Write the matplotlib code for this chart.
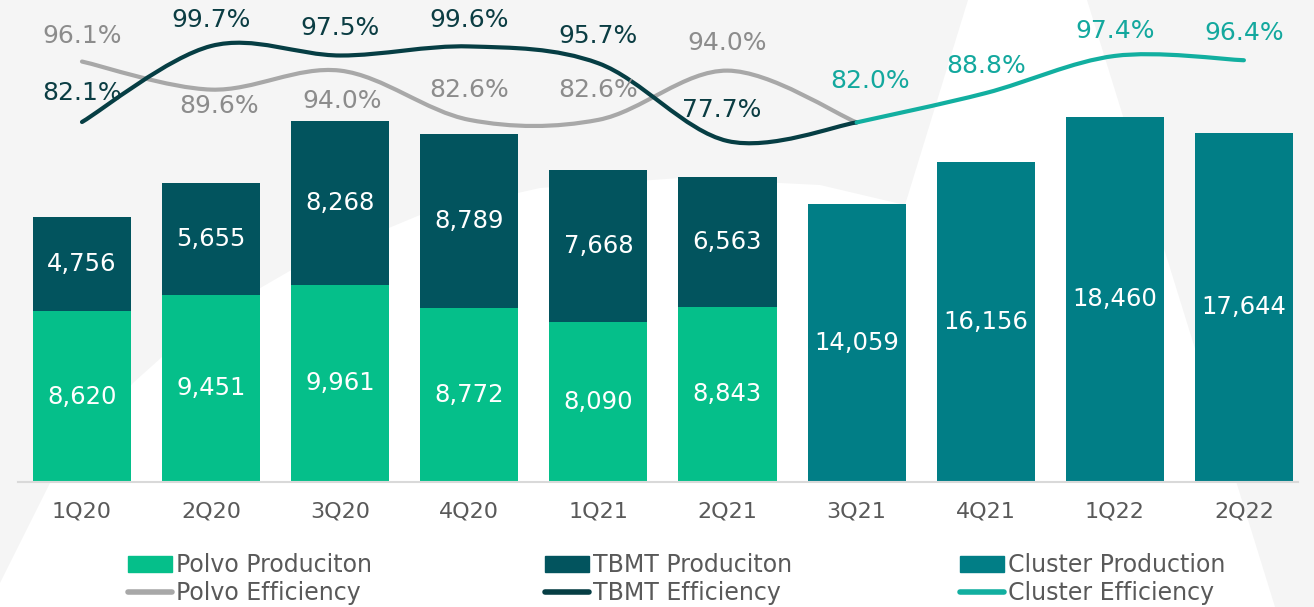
import matplotlib
matplotlib.use('Agg')
import matplotlib.pyplot as plt
import numpy as np
from matplotlib.path import Path
from matplotlib.patches import PathPatch, Patch, Polygon
from matplotlib.lines import Line2D

plt.rcParams['font.family'] = ['DejaVu Sans']

# data
quarters = ['1Q20', '2Q20', '3Q20', '4Q20', '1Q21', '2Q21', '3Q21', '4Q21', '1Q22', '2Q22']
polvo_prod = [8620, 9451, 9961, 8772, 8090, 8843]
tbmt_prod = [4756, 5655, 8268, 8789, 7668, 6563]
cluster_prod = [14059, 16156, 18460, 17644]
polvo_eff = [96.1, 89.6, 94.0, 82.6, 82.6, 94.0, 82.0]
tbmt_eff = [82.1, 99.7, 97.5, 99.6, 95.7, 77.7, 82.0]
cluster_eff = [82.0, 88.8, 97.4, 96.4]

c_polvo = '#05BF8A'
c_tbmt = '#02545E'
c_cluster = '#017E86'
c_polvo_line = '#A8A8A8'
c_tbmt_line = '#063E44'
c_cluster_line = '#12AFA0'

W, H = 1314, 607
fig = plt.figure(figsize=(W / 100, H / 100), dpi=100, facecolor='#F5F5F5')

ax = fig.add_axes([18 / W, (H - 482) / H, 1280 / W, 472 / H])
ax.patch.set_alpha(0)

# background shape (decoration only)
bg = [(0, 607), (0, 583), (50, 483), (133, 383), (200, 323), (300, 265), (420, 215),
      (540, 188), (680, 178), (820, 185), (905, 205), (968, 0), (1087, 0), (1275, 607)]
ax.add_patch(Polygon([(px / W, 1 - py / H) for px, py in bg], closed=True, clip_on=False,
                     transform=fig.transFigure, facecolor='white', edgecolor='none', zorder=0))

x = np.arange(len(quarters))
xp = x[:len(polvo_prod)]
xc = x[len(polvo_prod):]
bw = 0.76

b1 = ax.bar(xp, polvo_prod, bw, color=c_polvo, zorder=2)
b2 = ax.bar(xp, tbmt_prod, bw, bottom=polvo_prod, color=c_tbmt, zorder=2)
b3 = ax.bar(xc, cluster_prod, bw, color=c_cluster, zorder=2)
for bars in (b1, b2, b3):
    ax.bar_label(bars, labels=[f'{v:,}' for v in bars.datavalues], label_type='center',
                 color='white', fontsize=17.5, zorder=3)

ax.set_xlim((18 - 82) / 129.1, (1298 - 82) / 129.1)
ax.set_ylim(0, 472 / 0.01979)
ax.set_xticks(x)
ax.set_xticklabels(quarters, fontsize=16, color='#595959')
ax.tick_params(axis='x', length=0, pad=14)
ax.set_yticks([])
for s in ['top', 'left', 'right']:
    ax.spines[s].set_visible(False)
ax.spines['bottom'].set_color('#D9D9D9')
ax.spines['bottom'].set_linewidth(1.5)
ax.spines['bottom'].set_zorder(2)

ax2 = ax.twinx()
ax2.set_ylim(82.1 - 360 / 4.318, 82.1 + 112 / 4.318)
ax2.axis('off')


def smooth_path(xs, ys):
    pts = np.column_stack([xs, ys]).astype(float)
    n = len(pts)
    verts = [pts[0]]
    codes = [Path.MOVETO]
    for i in range(n - 1):
        p0 = pts[i - 1] if i > 0 else pts[i]
        p1, p2 = pts[i], pts[i + 1]
        p3 = pts[i + 2] if i + 2 < n else pts[i + 1]
        verts += [p1 + (p2 - p0) / 6, p2 - (p3 - p1) / 6, p2]
        codes += [Path.CURVE4] * 3
    return Path(verts, codes)


for xs, ys, col in [(x[:7], polvo_eff, c_polvo_line), (x[:7], tbmt_eff, c_tbmt_line),
                    (x[6:], cluster_eff, c_cluster_line)]:
    ax2.add_patch(PathPatch(smooth_path(xs, ys), fill=False, edgecolor=col, lw=3.0,
                            capstyle='round', zorder=4))

# label offsets in pixels (dx, dy), positive dy = up
polvo_off = [(0, 26), (8, -16), (2, -30), (0, 30), (0, 30), (0, 28)]
tbmt_off = [(0, 29), (0, 26), (0, 28), (0, 26), (0, 27), (-6, 31)]
cluster_off = [(13, 41), (0, 27), (0, 25), (0, 27)]
for xs, ys, offs, col in [(x[:6], polvo_eff, polvo_off, '#8C8C8C'),
                          (x[:6], tbmt_eff, tbmt_off, '#0B3D43'),
                          (x[6:], cluster_eff, cluster_off, '#13A89E')]:
    for xi, v, (dx, dy) in zip(xs, ys, offs):
        ax2.annotate(f'{v:.1f}%', (xi, v), xytext=(dx * 0.72, dy * 0.72), textcoords='offset points',
                     ha='center', va='center', fontsize=18, color=col, zorder=5)

leg_items = [
    [(Patch(color=c_polvo), 'Polvo Produciton'),
     (Line2D([], [], color=c_polvo_line, lw=4, solid_capstyle='round'), 'Polvo Efficiency')],
    [(Patch(color=c_tbmt), 'TBMT Produciton'),
     (Line2D([], [], color=c_tbmt_line, lw=4, solid_capstyle='round'), 'TBMT Efficiency')],
    [(Patch(color=c_cluster), 'Cluster Production'),
     (Line2D([], [], color=c_cluster_line, lw=4, solid_capstyle='round'), 'Cluster Efficiency')],
]
for items, lx in zip(leg_items, [128, 545, 960]):
    fig.legend([h for h, _ in items], [l for _, l in items], loc='upper left',
               bbox_to_anchor=(lx / W, 1 - 553 / H), frameon=False, fontsize=17,
               labelcolor='#595959', handlelength=1.85, handleheight=0.65, handletextpad=0.2,
               labelspacing=0.18, borderpad=0, borderaxespad=0)

fig.savefig('out.png', dpi=100, facecolor=fig.get_facecolor())
